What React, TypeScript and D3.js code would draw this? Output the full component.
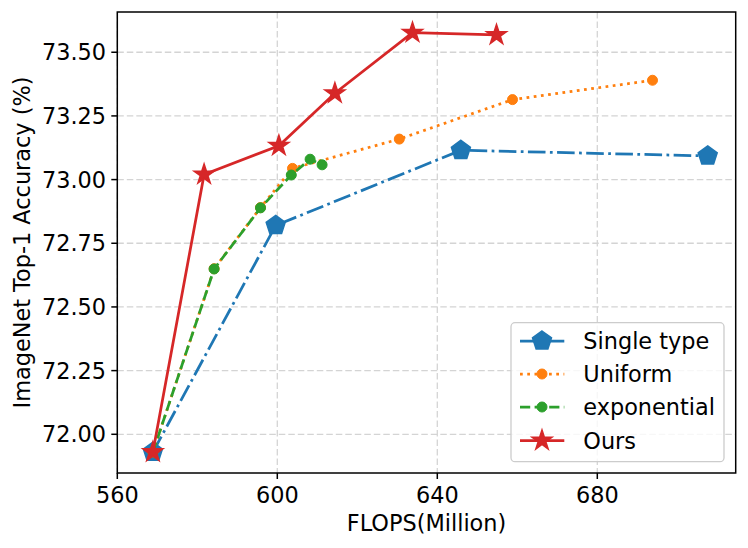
import React from "react";
import * as d3 from "d3";

const seriesNames = ["Single type", "Uniform", "exponential", "Ours"];
const colors = ["#1f77b4", "#ff7f0e", "#2ca02c", "#d62728"];

const singleX = [568.9, 599.6, 645.9, 707.6];
const singleY = [71.93, 72.82, 73.115, 73.093];

const uniformX = [568.9, 584.2, 595.8, 603.8, 630.5, 658.8, 693.8];
const uniformY = [71.93, 72.65, 72.89, 73.044, 73.159, 73.314, 73.39];

const expX = [568.9, 584.2, 595.8, 603.5, 608.2, 611.2];
const expY = [71.93, 72.649, 72.889, 73.018, 73.08, 73.058];

const oursX = [568.9, 581.7, 600.4, 614.4, 633.8, 654.8];
const oursY = [71.93, 73.02, 73.133, 73.339, 73.577, 73.568];

const xTicks = [560, 600, 640, 680];
const yTicks = [72.0, 72.25, 72.5, 72.75, 73.0, 73.25, 73.5];

const W = 748;
const H = 548;
const L = 117.3, R = 735.7, T = 12, B = 473;

const x = d3.scaleLinear().domain([560, 714.6]).range([L, R]);
const y = d3.scaleLinear().domain([71.848, 73.658]).range([B, T]);

const FONT = "'DejaVu Sans', sans-serif";
const FS = 22.4;

function polyPath(n: number, r: number, inner?: number) {
  const pts: [number, number][] = [];
  const total = inner ? n * 2 : n;
  for (let i = 0; i < total; i++) {
    const a = -Math.PI / 2 + (i * 2 * Math.PI) / total;
    const rr = inner && i % 2 === 1 ? r * inner : r;
    pts.push([rr * Math.cos(a), rr * Math.sin(a)]);
  }
  return "M" + pts.map((p) => p[0].toFixed(2) + "," + p[1].toFixed(2)).join("L") + "Z";
}

const pentagon = polyPath(5, 10);
const star = polyPath(5, 10.5, 0.381966);

type Marker = "pent" | "circle" | "star";

function MarkerShape({ kind, cx, cy, color }: { kind: Marker; cx: number; cy: number; color: string }) {
  if (kind === "circle") return <circle cx={cx} cy={cy} r={5} fill={color} stroke={color} strokeWidth={1} />;
  const d = kind === "pent" ? pentagon : star;
  return <path d={d} transform={`translate(${cx},${cy})`} fill={color} stroke={color} strokeWidth={1.5} strokeLinejoin="miter" />;
}

const series = [
  { xs: singleX, ys: singleY, marker: "pent" as Marker, dash: "17.6,4.4,2.75,4.4", width: 2.75 },
  { xs: uniformX, ys: uniformY, marker: "circle" as Marker, dash: "2.75,4.5", width: 2.75 },
  { xs: expX, ys: expY, marker: "circle" as Marker, dash: "10.2,4.4", width: 2.75 },
  { xs: oursX, ys: oursY, marker: "star" as Marker, dash: "", width: 2.75 },
];

const line = d3
  .line<[number, number]>()
  .x((d) => x(d[0]))
  .y((d) => y(d[1]));

export default function App() {
  const legendRows = [341, 374, 407, 440.5];
  return (
    <svg width={W} height={H} style={{ position: "absolute", left: 0, top: 0, background: "#fff" }} fontFamily={FONT}>
      <rect x={0} y={0} width={W} height={H} fill="#fff" />
      {/* grid */}
      <g stroke="#d4d4d4" strokeWidth={1.3} strokeDasharray="6.5,3">
        {xTicks.map((t) => (
          <line key={"gx" + t} x1={x(t)} x2={x(t)} y1={T} y2={B} />
        ))}
        {yTicks.map((t) => (
          <line key={"gy" + t} x1={L} x2={R} y1={y(t)} y2={y(t)} />
        ))}
      </g>
      {/* series */}
      {series.map((s, i) => {
        const pts = s.xs.map((v, j) => [v, s.ys[j]] as [number, number]);
        return (
          <g key={"s" + i}>
            <path d={line(pts) || ""} fill="none" stroke={colors[i]} strokeWidth={s.width} strokeDasharray={s.dash || undefined} />
            {pts.map((p, j) => (
              <MarkerShape key={j} kind={s.marker} cx={x(p[0])} cy={y(p[1])} color={colors[i]} />
            ))}
          </g>
        );
      })}
      {/* spines */}
      <rect x={L} y={T} width={R - L} height={B - T} fill="none" stroke="#000" strokeWidth={1.5} />
      {/* ticks */}
      <g stroke="#000" strokeWidth={1.5}>
        {xTicks.map((t) => (
          <line key={"tx" + t} x1={x(t)} x2={x(t)} y1={B} y2={B + 6} />
        ))}
        {yTicks.map((t) => (
          <line key={"ty" + t} x1={L} x2={L - 6} y1={y(t)} y2={y(t)} />
        ))}
      </g>
      <g fontSize={FS} fill="#000">
        {xTicks.map((t) => (
          <text key={"lx" + t} x={x(t)} y={503} textAnchor="middle">
            {d3.format("d")(t)}
          </text>
        ))}
        {yTicks.map((t) => (
          <text key={"ly" + t} x={106} y={y(t)} dy="0.36em" textAnchor="end">
            {d3.format(".2f")(t)}
          </text>
        ))}
      </g>
      <text x={(L + R) / 2} y={531} textAnchor="middle" fontSize={FS}>
        FLOPS(Million)
      </text>
      <text transform={`translate(29.5,${(T + B) / 2}) rotate(-90)`} textAnchor="middle" fontSize={FS}>
        ImageNet Top-1 Accuracy (%)
      </text>
      {/* legend */}
      <rect x={511} y={322.7} width={213} height={139} rx={4} ry={4} fill="#fff" fillOpacity={0.8} stroke="#cccccc" strokeWidth={1.3} />
      {series.map((s, i) => (
        <g key={"lg" + i}>
          <line x1={520} x2={564.3} y1={legendRows[i]} y2={legendRows[i]} stroke={colors[i]} strokeWidth={s.width} strokeDasharray={s.dash || undefined} />
          <MarkerShape kind={s.marker} cx={542} cy={legendRows[i]} color={colors[i]} />
          <text x={583.3} y={legendRows[i]} dy="0.36em" fontSize={FS}>
            {seriesNames[i]}
          </text>
        </g>
      ))}
    </svg>
  );
}
